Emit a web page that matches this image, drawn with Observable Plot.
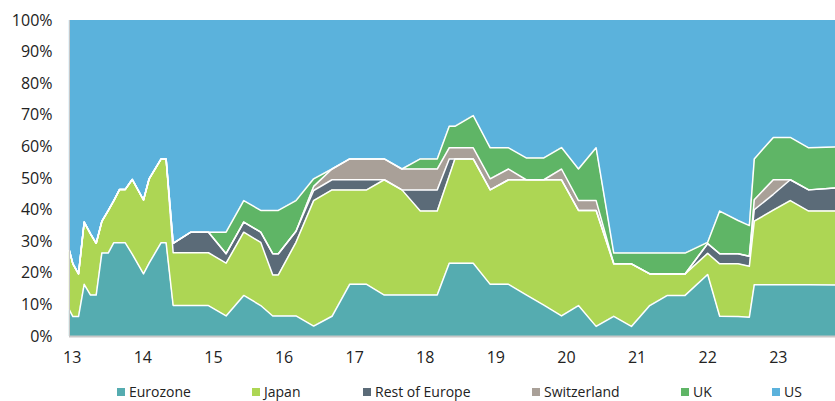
<!DOCTYPE html>
<html>
<head>
<meta charset="utf-8">
<script src="https://cdn.jsdelivr.net/npm/d3@7"></script>
<script src="https://cdn.jsdelivr.net/npm/@observablehq/plot@0.6"></script>
<style>
  html, body { margin: 0; padding: 0; background: #fff; }
  body { position: relative; width: 835px; height: 401px; overflow: hidden; font-family: "Open Sans", sans-serif; }
  #chart { position: absolute; left: 0; top: 0; }
  #legend { position: absolute; left: 0; top: 383px; width: 835px; height: 18px; }
  .item { position: absolute; top: 0; display: flex; align-items: center; font-size: 14px; color: #222; line-height: 18px; white-space: nowrap; }
  .sw { width: 8px; height: 8px; margin-right: 4px; }
</style>
</head>
<body>
<div id="chart"></div>
<div id="legend"></div>
<script>
// Dates as decimal years (13 = 2013)
const dates = [12.96, 13.01, 13.09, 13.17, 13.26, 13.34, 13.42, 13.51, 13.59, 13.67, 13.75, 13.85, 14.01, 14.09, 14.26, 14.33,
  14.43, 14.68, 14.93, 15.18, 15.43, 15.67, 15.84, 15.92, 16.17, 16.42, 16.68, 16.93, 17.17, 17.42, 17.67, 17.93, 18.17,
  18.34, 18.42, 18.68, 18.92, 19.18, 19.43, 19.68, 19.93, 20.17, 20.42, 20.67, 20.92, 21.18, 21.43, 21.68, 22.00, 22.17,
  22.43, 22.59, 22.66, 22.93, 23.17, 23.43, 23.81];

// Shares in percent
const eurozone = [8.4, 6.3, 6.3, 16.5, 13.1, 13.1, 26.4, 26.4, 29.7, 29.7, 29.7, 26.1, 19.8, 23.2, 29.7, 29.7,
  9.8, 9.8, 9.8, 6.5, 13, 9.8, 6.5, 6.5, 6.5, 3.3, 6.4, 16.5, 16.5, 13.1, 13.1, 13.1, 13.1,
  23.2, 23.2, 23.2, 16.5, 16.5, 13.2, 9.9, 6.5, 9.8, 3.2, 6.4, 3.2, 9.8, 13, 13, 19.6, 6.4,
  6.3, 6.1, 16.4, 16.4, 16.4, 16.4, 16.3];
const japan = [18.8, 16.7, 13.5, 19.7, 19.4, 16.4, 10, 13.4, 13.3, 16.8, 16.8, 23.6, 23.4, 26.7, 26.5, 26.5,
  16.7, 16.7, 16.7, 16.7, 20, 20, 13, 13, 23.3, 39.7, 40, 29.9, 29.9, 36.5, 33.3, 26.6, 26.6,
  27.7, 33, 33, 29.9, 33.1, 36.4, 39.7, 43.1, 30.1, 36.7, 16.6, 19.8, 10, 6.8, 6.8, 6.7, 16.6,
  16.7, 16.1, 20.1, 23.6, 26.6, 23.3, 23.4];
const restOfEurope = [0, 0, 0, 0, 0, 0, 0, 0, 0, 0, 0, 0, 0, 0, 0, 0,
  3, 6.5, 6.5, 3, 3.2, 3.2, 6.7, 6.7, 3.5, 3.2, 3.2, 3.2, 3.2, 0, 0, 6.7, 6.7,
  5.3, 0, 0, 0, 0, 0, 0, 0, 0, 0, 0, 0, 0, 0, 0, 3.1, 3.2,
  3.2, 3.2, 3.6, 5, 6.6, 6.7, 7.3];
const switzerland = [0, 0, 0, 0, 0, 0, 0, 0, 0, 0, 0, 0, 0, 0, 0, 0,
  0, 0, 0, 0, 0, 0, 0, 0, 0, 1.3, 3.4, 6.6, 6.6, 6.6, 6.6, 6.6, 6.6,
  3.5, 3.5, 3.5, 3.5, 3.4, 0, 0, 3.4, 3.1, 3.1, 0, 0, 0, 0, 0, 0, 0,
  0, 0, 3.2, 4.6, 0, 0, 0];
const uk = [0, 0, 0, 0, 0, 0, 0, 0, 0, 0, 0, 0, 0, 0, 0, 0,
  0, 0, 0, 6.8, 6.8, 6.9, 13.7, 13.7, 9.7, 2.4, 0, 0, 0, 0, 0, 3.2, 3.2,
  6.8, 6.8, 10.2, 9.8, 6.7, 6.9, 6.9, 6.8, 10, 16.7, 3.4, 3.4, 6.6, 6.6, 6.6, 0.4, 13.5,
  10.5, 9.7, 12.9, 13.4, 13.4, 13.3, 13];
const us = [72.8, 77, 80.2, 63.8, 67.5, 70.5, 63.6, 60.2, 57, 53.5, 53.5, 50.3, 56.8, 50.1, 43.8, 43.8,
  70.5, 67, 67, 67, 57, 60.1, 60.1, 60.1, 57, 50.1, 47, 43.8, 43.8, 43.8, 47, 43.8, 43.8,
  33.5, 33.5, 30.1, 40.3, 40.3, 43.5, 43.5, 40.2, 47, 40.3, 73.6, 73.6, 73.6, 73.6, 73.6, 70.2, 60.3,
  63.3, 64.9, 43.8, 37, 37, 40.3, 40];

const seriesNames = ["Eurozone", "Japan", "Rest of Europe", "Switzerland", "UK", "US"];
const seriesColors = ["#55acb0", "#add654", "#5b6b78", "#a9a098", "#5fb566", "#5bb2dc"];
const xTicks = [13, 14, 15, 16, 17, 18, 19, 20, 21, 22, 23];
const yTicks = [0, 10, 20, 30, 40, 50, 60, 70, 80, 90, 100];

const seriesValues = [eurozone, japan, restOfEurope, switzerland, uk, us];
const rows = [];
dates.forEach((date, i) => {
  seriesNames.forEach((name, j) => {
    rows.push({date, series: name, value: seriesValues[j][i]});
  });
});

const chart = Plot.plot({
  width: 835,
  height: 372,
  marginLeft: 69,
  marginRight: 0,
  marginTop: 20,
  marginBottom: 36,
  style: {fontFamily: "'Open Sans', sans-serif", fontSize: "16px", color: "#222", background: "white"},
  x: {domain: [12.962, 23.81], ticks: xTicks, tickFormat: d => String(d), tickSize: 0, tickPadding: 15, label: null},
  y: {domain: [0, 100], ticks: yTicks, tickFormat: d => d + "%", tickSize: 0, tickPadding: 17, label: null},
  color: {domain: seriesNames, range: seriesColors},
  marks: [
    Plot.areaY(rows, {x: "date", y: "value", z: "series", fill: "series", order: seriesNames}),
    Plot.lineY(rows, Plot.stackY2({x: "date", y: "value", z: "series", order: seriesNames,
      stroke: "white", strokeWidth: 1.5, filter: d => d.series !== "US"})),
    Plot.ruleY([0], {stroke: "#c8c8c8", strokeWidth: 2}),
    Plot.ruleX([12.962], {stroke: "#c8c8c8", strokeWidth: 1})
  ]
});
document.getElementById("chart").appendChild(chart);

const legendX = [117, 252, 363, 532, 681, 772];
const legend = document.getElementById("legend");
seriesNames.forEach((name, i) => {
  const item = document.createElement("div");
  item.className = "item";
  item.style.left = legendX[i] + "px";
  const sw = document.createElement("span");
  sw.className = "sw";
  sw.style.background = seriesColors[i];
  const label = document.createElement("span");
  label.textContent = name;
  item.appendChild(sw);
  item.appendChild(label);
  legend.appendChild(item);
});
</script>
</body>
</html>
